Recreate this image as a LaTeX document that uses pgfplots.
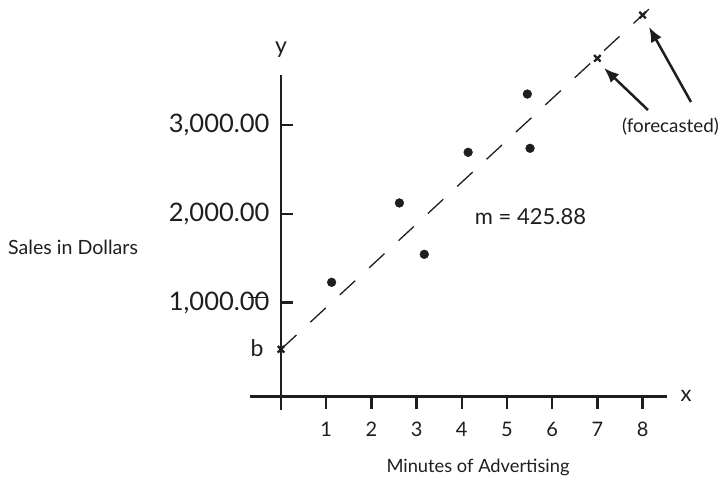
\documentclass[border=0pt]{standalone}
\usepackage{pgfplots}
\pgfplotsset{compat=1.18}
\usepackage{fontspec}
\setmainfont{Lato}
\usetikzlibrary{arrows.meta}
\definecolor{ink}{HTML}{1E1E1E}

\begin{document}
\begin{tikzpicture}[x=1pt,y=1pt]
\useasboundingbox (0,0) rectangle (723,487);

\begin{axis}[
    at={(250pt,90.3pt)}, anchor=south west,
    scale only axis,
    width=417pt, height=396.7pt,
    xmin=-0.6858, xmax=8.540,
    ymin=-58.5, ymax=4406.3,
    axis x line=bottom,
    axis y line=middle,
    x axis line style={-, line width=2.6pt, color=ink},
    y axis line style={draw=none},
    xtick={1,...,8},
    ytick={1000,2000,3000},
    tick align=center,
    major tick length=12pt,
    every tick/.style={line width=2.4pt, color=ink},
    xtick style={yshift=-6pt},
    ytick style={xshift=6pt},
    /pgf/number format/assume math mode=true,
    xticklabel style={font=\fontsize{20}{20}\selectfont, color=ink, yshift=-16pt},
    yticklabel style={font=\fontsize{25.5}{25.5}\selectfont, color=ink, xshift=-2pt,
        /pgf/number format/.cd, fixed, fixed zerofill, precision=2, 1000 sep={,}},
    clip=false,
]
% trend line
\addplot[ink, line width=1.3pt, dash pattern=on 21pt off 19pt]
    coordinates {(0,475) (8.15,4308)};
% observed sales
\addplot[only marks, mark=*, mark size=4.4pt, color=ink]
    coordinates {
    (1.12,1229)
    (2.62,2122)
    (3.17,1544)
    (4.14,2692)
    (5.45,3348)
    (5.51,2737)
    };
% intercept and forecasts
\addplot[only marks, mark=x, mark size=4.6pt, line width=2.3pt, color=ink]
    coordinates {(0,475) (7,3750) (8,4237)};
\end{axis}

% y axis
\draw[ink, line width=2.6pt] (281,77) -- (281,412);
\draw[ink, line width=1.4pt] (248,189.3) -- (267,189.3);

% arrows to the forecasts
\draw[ink, line width=2.5pt, -{Latex[length=15pt,width=12pt]}] (648,377) -- (604,419);
\draw[ink, line width=2.5pt, -{Latex[length=15pt,width=12pt]}] (691,385) -- (649,460);

\node[ink, font=\fontsize{23}{23}\selectfont] at (281,437) {y};
\node[ink, font=\fontsize{22}{22}\selectfont] at (686,91) {x};
\node[ink, font=\fontsize{23}{23}\selectfont] at (257,139) {b};
\node[ink, font=\fontsize{22}{22}\selectfont] at (530.5,270) {m = 425.88};
\node[ink, font=\fontsize{18.8}{18.8}\selectfont] at (670.5,360) {(forecasted)};
\node[ink, font=\fontsize{19.6}{19.6}\selectfont, anchor=west, inner sep=0pt] at (8,240) {Sales in Dollars};
\node[ink, font=\fontsize{18.3}{18.3}\selectfont] at (478,20) {Minutes of Advertising};
\end{tikzpicture}
\end{document}
